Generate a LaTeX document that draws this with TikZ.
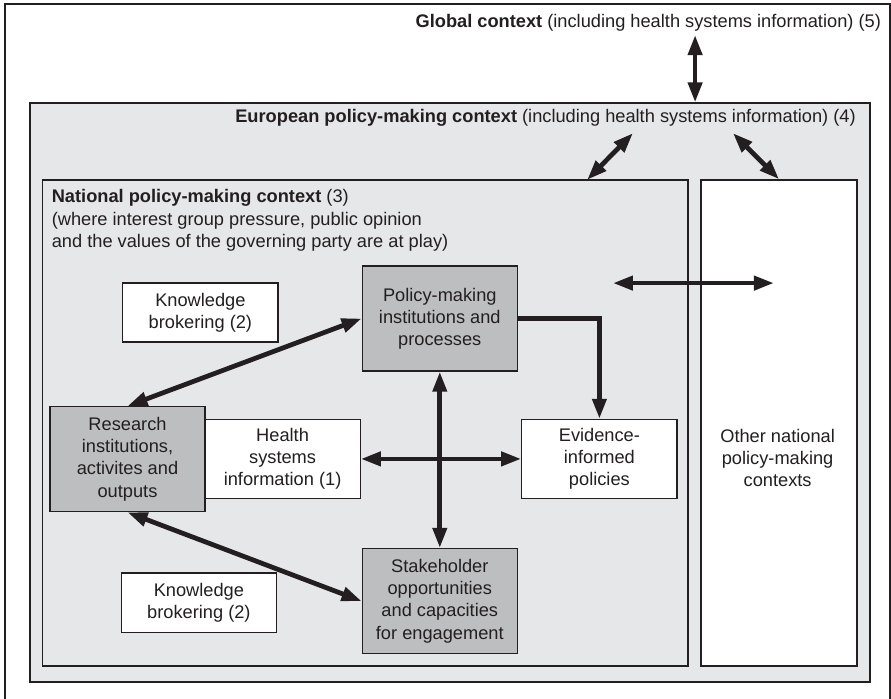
\documentclass[tikz,border=0pt]{standalone}
\usepackage{fontspec}
\setmainfont{Liberation Sans}
\usetikzlibrary{arrows.meta}
\definecolor{ink}{HTML}{231F20}
\definecolor{ctxgrey}{HTML}{E6E7E8}
\definecolor{boxgrey}{HTML}{BCBEC0}

\begin{document}
\begin{tikzpicture}[
    every node/.style={font=\fontsize{17.3}{21}\selectfont, text=ink},
    frame/.style={draw=ink, line width=1.2pt, inner sep=0pt},
    whitebox/.style={frame, fill=white, minimum width=5.17cm, align=center},
    greybox/.style={whitebox, fill=boxgrey, minimum height=3.5cm},
    link/.style={draw=ink, line width=4.5pt},
    >={Triangle[length=19pt,width=13pt]}
  ]
  \useasboundingbox (0,0) rectangle (29.7,23.267);
  \draw[frame, fill=white] (0.17,-0.3) rectangle (29.67,23.13);
  \node[frame, fill=ctxgrey, minimum width=28cm, minimum height=19.3cm] (euro) at (15,10.18) {};
  \node[frame, minimum width=21.53cm, minimum height=16.2cm] (nat) at (12.17,9.17) {};
  \node[frame, fill=white, minimum width=5.2cm, minimum height=16.2cm] (other) at (25.97,9.17) {};

  \node[anchor=east, inner sep=0pt] (globtitle) at (29.37,22.52) {\textbf{Global context} (including health systems information) (5)};
  \node[anchor=east, inner sep=0pt] (eurotitle) at (28.53,19.33) {\textbf{European policy-making context} (including health systems information) (4)};
  \node[anchor=north west, align=left, inner sep=0pt] (nattitle) at (1.72,16.95) {\textbf{National policy-making context} (3)\\(where interest group pressure, public opinion\\and the values of the governing party are at play)};
  \node[align=center] (othertitle) at (25.92,8.0) {Other national\\policy-making\\contexts};

  \node[whitebox, minimum height=1.97cm] (kbtop) at (6.68,12.85) {Knowledge\\brokering (2)};
  \node[greybox] (policy) at (14.66,12.65) {Policy-making\\institutions and\\processes};
  \node[whitebox, minimum height=2.63cm] (health) at (9.42,7.97) {Health\\systems\\information (1)};
  \node[greybox] (research) at (4.25,7.96) {Research\\institutions,\\activites and\\outputs};
  \node[whitebox, minimum height=2.63cm] (evidence) at (19.98,7.97) {Evidence-\\informed\\policies};
  \node[greybox] (stake) at (14.66,3.23) {Stakeholder\\opportunities\\and capacities\\for engagement};
  \node[whitebox, minimum height=1.97cm] (kbbottom) at (6.63,3.18) {Knowledge\\brokering (2)};

  \coordinate (gtop) at (23.17,22.1);
  \coordinate (eleft) at (21.1,18.83);
  \coordinate (nattop) at (19.57,17.27);
  \coordinate (eright) at (24.43,18.83);
  \coordinate (hleft) at (20.43,13.83);
  \coordinate (hright) at (25.8,13.83);
  \draw[link, <->] (gtop) -- (gtop |- euro.north);
  \draw[link, <->] (eleft) -- (nattop);
  \draw[link, <->] (eright) -- (other.north);
  \draw[link, <->] (hleft) -- (hright);
  \draw[link, <->] (research.north) -- (policy.west);
  \draw[link, ->] (policy.east) -| (evidence.north);
  \draw[link, <->] (policy.south) -- (stake.north);
  \draw[link, <->] (health.east) -- (evidence.west);
  \draw[link, <->] (research.south) -- (stake.west);
\end{tikzpicture}
\end{document}
